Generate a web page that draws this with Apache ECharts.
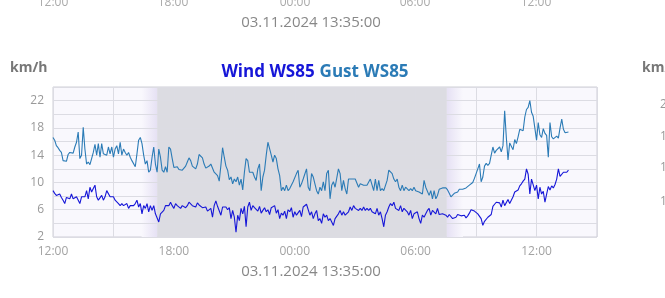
<!DOCTYPE html>
<html><head><meta charset="utf-8">
<script src="https://cdn.jsdelivr.net/npm/echarts@6/dist/echarts.min.js"></script>
<style>html,body{margin:0;padding:0;background:#fff;overflow:hidden}#c{width:665px;height:298px}</style>
</head><body><div id="c"></div>
<script>
// 5-minute samples, 02.11.2024 12:00 .. 03.11.2024 13:35
const stepHours = 1 / 12;
const gust = [
  16.6, 16.2, 15.4, 15.1, 14.7, 14.4, 13.2, 13.0, 13.1, 14.1,
  14.4, 14.4, 14.3, 15.2, 15.9, 17.4, 13.5, 14.0, 18.1, 14.9,
  12.7, 13.0, 12.6, 13.5, 14.4, 15.6, 14.0, 15.7, 13.7, 15.7,
  14.2, 14.4, 14.0, 15.2, 14.2, 15.2, 13.7, 14.9, 15.4, 14.2,
  15.9, 14.0, 14.9, 14.4, 14.0, 14.4, 13.7, 13.2, 13.0, 12.3,
  14.2, 16.2, 16.6, 15.7, 14.0, 12.7, 13.2, 11.5, 11.8, 13.7,
  15.2, 12.7, 11.5, 14.9, 13.7, 11.8, 11.5, 12.3, 11.5, 15.2,
  14.9, 13.5, 12.2, 12.2, 12.3, 11.9, 11.8,
  11.8, 12.0, 12.4, 13.0, 13.6, 13.2, 12.4, 12.5, 12.0, 12.7,
  14.1, 14.3, 13.6, 12.7, 12.1, 11.9, 12.4, 12.7, 12.5, 11.5,
  11.3, 11.0, 10.2, 12.5, 15.1, 13.7, 12.4, 11.8, 10.4, 10.8,
  9.8, 10.5, 10.1, 10.8, 9.6, 10.5, 8.9, 11.5, 13.5, 13.2,
  11.5, 11.3, 11.5, 10.8, 10.3, 12.0, 12.7, 8.8, 10.8, 11.8,
  14.0, 15.9, 15.7, 14.0, 13.0, 14.0, 13.5, 12.0, 11.0, 8.8,
  9.3, 8.8, 9.6, 8.8, 9.1, 9.3, 10.1, 10.3, 11.3, 11.8,
  9.3, 9.8, 10.5, 10.3, 12.0, 9.3,
  8.8, 11.3, 10.8, 9.8, 8.8, 8.3, 9.3, 8.8, 10.1, 8.8,
  11.3, 11.8, 7.6, 9.6, 10.1, 9.3, 9.1, 12.0, 11.3, 8.8,
  10.3, 9.1, 8.3, 10.5, 10.3, 10.5, 10.5, 10.5, 10.3, 9.3,
  9.8, 9.6, 9.6, 9.8, 9.6, 9.6, 10.5, 10.3, 8.8, 10.5,
  8.8, 10.3, 8.8, 9.1, 8.8, 8.8, 10.3, 11.8, 12.0, 11.3,
  10.5, 10.1, 10.5, 9.3, 8.8, 9.6, 8.8, 9.3, 9.3, 8.8,
  9.1, 8.8, 9.3, 8.8, 8.8, 8.6, 8.8, 8.3, 10.3, 9.3,
  9.1, 8.1, 8.8, 7.6, 8.8, 7.6, 8.1,
  9.0, 9.1, 9.2, 9.4, 9.2, 8.9, 8.4, 7.9, 8.0, 8.4,
  8.4, 8.6, 9.0, 8.9, 9.0, 9.2, 9.2, 9.2, 9.6, 9.7,
  10.0, 10.6, 11.3, 12.0, 12.7, 10.1, 10.8, 12.4, 12.8, 12.5,
  12.8, 14.0, 15.2, 14.3, 14.7, 14.7, 15.2, 14.5, 15.4, 20.5,
  16.6, 13.3, 15.8, 15.9, 14.8, 16.3, 15.7, 16.7, 17.8, 18.0,
  17.6, 19.6, 20.7, 21.0, 22.0, 20.3, 19.7, 19.6, 16.2, 18.8,
  17.0, 16.6, 17.9, 17.2, 16.9, 13.7, 18.8, 16.7, 16.4, 16.3,
  16.8, 16.5, 18.0, 19.3, 17.8, 17.3, 17.1, 17.4
];
const wind = [
  8.8, 8.4, 8.1, 8.3, 8.3, 7.8, 7.4, 6.9, 7.8, 7.8,
  7.6, 8.3, 7.6, 7.8, 7.9, 8.1, 6.9, 7.9, 8.1, 7.9,
  8.8, 7.6, 9.3, 8.6, 9.1, 9.6, 7.9, 7.4, 7.6, 8.1,
  7.4, 7.9, 8.8, 8.6, 7.9, 8.1, 7.9, 7.4, 7.6, 6.9,
  6.6, 6.9, 6.6, 6.4, 6.9, 6.2, 6.6, 6.5, 6.6, 6.9,
  7.4, 6.4, 6.9, 5.4, 6.6, 6.2, 6.9, 5.7, 6.6, 5.9,
  6.6, 5.4, 5.2, 4.2, 5.4, 5.2, 5.9, 6.6, 6.4, 6.6,
  7.1, 6.6, 6.2, 6.9, 6.6, 6.4, 6.2,
  6.6, 6.4, 6.3, 6.6, 7.1, 7.1, 6.6, 6.4, 6.4, 7.0,
  6.7, 6.8, 6.3, 6.3, 6.4, 5.8, 6.0, 6.2, 4.9, 6.6,
  7.3, 6.5, 6.5, 5.2, 6.4, 6.6, 6.4, 6.0, 6.3, 4.7,
  5.9, 4.9, 2.7, 5.2, 4.4, 6.2, 5.4, 6.5, 3.5, 6.4,
  7.1, 5.9, 6.6, 6.3, 6.4, 5.8, 6.5, 5.5, 5.9, 6.3,
  5.7, 6.0, 5.3, 6.3, 6.2, 6.6, 5.5, 6.0, 4.7, 5.5,
  5.2, 5.8, 4.7, 6.0, 5.7, 6.3, 4.9, 5.7, 5.2, 5.4,
  5.9, 5.0, 6.4, 6.2, 6.8, 6.6,
  5.2, 5.7, 4.7, 5.4, 5.9, 4.4, 4.7, 4.0, 5.4, 4.9,
  5.2, 4.4, 4.7, 4.9, 3.7, 4.7, 4.9, 5.4, 5.9, 5.2,
  5.7, 5.2, 5.4, 5.7, 6.4, 5.9, 6.6, 6.2, 6.4, 5.9,
  6.2, 5.9, 6.4, 5.9, 6.2, 5.9, 6.2, 5.7, 5.9, 5.4,
  6.2, 5.2, 5.7, 4.7, 3.5, 5.2, 5.7, 6.4, 6.9, 6.6,
  7.1, 6.2, 6.4, 5.9, 6.6, 5.7, 6.2, 6.4, 5.7, 5.2,
  5.9, 4.7, 5.4, 5.2, 5.7, 4.7, 4.0, 5.2, 4.9, 5.4,
  5.9, 6.2, 5.2, 5.9, 5.7, 5.4, 6.2,
  5.3, 5.5, 5.4, 5.3, 5.2, 4.9, 5.3, 5.2, 4.7, 4.5,
  4.9, 5.3, 5.2, 5.1, 5.3, 5.2, 4.8, 5.1, 5.5, 6.0,
  6.0, 5.8, 5.8, 5.4, 5.3, 4.7, 3.7, 4.3, 4.5, 4.9,
  4.8, 5.3, 6.5, 6.8, 7.1, 6.9, 7.0, 6.4, 7.4, 6.6,
  6.7, 7.5, 6.9, 7.0, 7.9, 8.6, 8.4, 8.9, 9.5, 9.8,
  10.2, 10.5, 12.0, 11.2, 8.3, 10.5, 10.4, 8.8, 9.6, 7.6,
  9.3, 8.3, 8.7, 7.1, 8.3, 9.4, 8.9, 9.5, 9.2, 9.7,
  10.5, 12.0, 10.9, 11.0, 11.5, 11.3, 11.5, 11.8
];
const xTickLabels = ['12:00', '18:00', '00:00', '06:00', '12:00'];
const yTickLabels = ['2', '6', '10', '14', '18', '22'];
// night shading, hours since 12:00
const duskStart = 4.4, nightStart = 5.17, nightEnd = 19.55, dawnEnd = 20.35;
const dateText = '03.11.2024 13:35:00';
const unitText = 'km/h';
const rightTickLabels = ['20', '16', '12', '10'];

const chart = echarts.init(document.getElementById('c'), null, {renderer: 'canvas'});
const FONT = '"Open Sans", "Noto Sans", sans-serif';
const BG = '#f9f8fd', NIGHT = '#dcdce2', LAV = '#e6e1f4';
const toXY = arr => arr.map((v, i) => [i * stepHours, v]);

// neighbouring chart fragments (cropped at the picture edges)
const topLabelX = [53, 173, 295, 415, 536];
const rightLabelY = [105, 137, 168, 202];
const graphics = [
  {type: 'text', x: 10, y: 68, style: {text: unitText, font: 'bold 14px ' + FONT, fill: '#777', verticalAlign: 'middle'}},
  {type: 'text', x: 311, y: 272, style: {text: dateText, font: '15px ' + FONT, fill: '#888', align: 'center', verticalAlign: 'middle'}},
  {type: 'text', x: 311, y: 23, style: {text: dateText, font: '15px ' + FONT, fill: '#888', align: 'center', verticalAlign: 'middle'}},
  {type: 'text', x: 642, y: 68, style: {text: unitText, font: 'bold 14px ' + FONT, fill: '#777', verticalAlign: 'middle'}}
];
xTickLabels.forEach((t, i) => graphics.push({type: 'text', x: topLabelX[i], y: 3, style: {text: t, font: '12px ' + FONT, fill: '#aaa', align: 'center', verticalAlign: 'middle'}}));
rightTickLabels.forEach((t, i) => graphics.push({type: 'text', x: 660, y: rightLabelY[i], style: {text: t, font: '12px ' + FONT, fill: '#999', verticalAlign: 'middle'}}));

chart.setOption({
  animation: false,
  backgroundColor: '#fff',
  title: {
    text: '{a|Wind WS85} {b|Gust WS85}',
    left: 310, top: 58, textAlign: 'center',
    textStyle: {rich: {
      a: {color: '#1616d8', fontWeight: 'bold', fontSize: 17, fontFamily: FONT},
      b: {color: '#2b7bb6', fontWeight: 'bold', fontSize: 17, fontFamily: FONT}
    }}
  },
  graphic: graphics,
  grid: {left: 53, top: 87, width: 544, height: 150, show: true, backgroundColor: BG, borderColor: '#cfcfd6', borderWidth: 1},
  xAxis: {
    type: 'value', min: 0, max: 27, interval: 3, z: 2,
    axisLine: {show: false}, axisTick: {show: false},
    splitLine: {show: true, lineStyle: {color: '#dcdce3', width: 1}},
    axisLabel: {color: '#a3a3a3', fontSize: 12, fontFamily: FONT, margin: 9,
      formatter: v => (v % 6 === 0 ? (xTickLabels[v / 6] || '') : '')}
  },
  yAxis: {
    type: 'value', min: 2, max: 24, interval: 2, z: 2,
    axisLine: {show: false}, axisTick: {show: false},
    splitLine: {show: true, lineStyle: {color: '#dcdce3', width: 1}},
    axisLabel: {color: '#999', fontSize: 12, fontFamily: FONT, margin: 9,
      formatter: v => (yTickLabels.indexOf(String(v)) >= 0 ? String(v) : '')}
  },
  series: [
    {
      type: 'line', data: [], z: 1, silent: true,
      markArea: {silent: true, data: [
        [{xAxis: duskStart, itemStyle: {color: new echarts.graphic.LinearGradient(0, 0, 1, 0, [{offset: 0, color: BG}, {offset: 1, color: LAV}])}}, {xAxis: nightStart}],
        [{xAxis: nightStart, itemStyle: {color: NIGHT}}, {xAxis: nightEnd}],
        [{xAxis: nightEnd, itemStyle: {color: new echarts.graphic.LinearGradient(0, 0, 1, 0, [{offset: 0, color: LAV}, {offset: 1, color: BG}])}}, {xAxis: dawnEnd}]
      ]}
    },
    {name: 'Gust WS85', type: 'line', z: 3, data: toXY(gust), showSymbol: false, lineStyle: {color: '#2b7bb6', width: 1.1}, itemStyle: {color: '#2b7bb6'}},
    {name: 'Wind WS85', type: 'line', z: 4, data: toXY(wind), showSymbol: false, lineStyle: {color: '#1616d8', width: 1.1}, itemStyle: {color: '#1616d8'}}
  ]
});
</script></body></html>
